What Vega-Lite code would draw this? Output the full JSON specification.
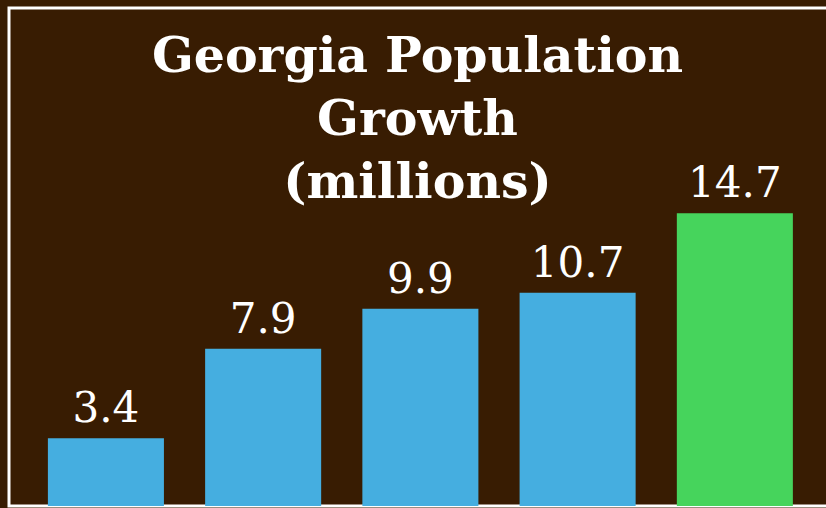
{
  "$schema": "https://vega.github.io/schema/vega-lite/v6.json",
  "autosize": "none",
  "width": 817,
  "height": 498,
  "padding": {"left": 9, "top": 8, "right": 0, "bottom": 2},
  "background": "#381c02",
  "config": {
    "view": {"stroke": "#ffffff", "strokeWidth": 3, "strokeDash": [817, 498, 1315], "fill": "#381c02"}
  },
  "title": {
    "text": ["Georgia Population", "Growth", "(millions)"],
    "font": "DejaVu Serif",
    "fontSize": 49,
    "fontWeight": "bold",
    "color": "#ffffff",
    "lineHeight": 63,
    "anchor": "middle",
    "frame": "group",
    "orient": "top",
    "offset": -200
  },
  "data": {
    "values": [
      {"period": "1950", "population": 3.4, "type": "actual"},
      {"period": "2000", "population": 7.9, "type": "actual"},
      {"period": "2015", "population": 9.9, "type": "actual"},
      {"period": "2022", "population": 10.7, "type": "actual"},
      {"period": "2050", "population": 14.7, "type": "projected"}
    ]
  },
  "encoding": {
    "x": {
      "field": "period",
      "type": "nominal",
      "sort": null,
      "axis": null,
      "scale": {"paddingInner": 0.262, "paddingOuter": 0.229, "align": 0.54}
    },
    "y": {
      "field": "population",
      "type": "quantitative",
      "axis": null,
      "scale": {"domain": [0, 25], "nice": false}
    }
  },
  "layer": [
    {
      "mark": {"type": "bar"},
      "encoding": {
        "color": {
          "field": "type",
          "type": "nominal",
          "legend": null,
          "scale": {"domain": ["actual", "projected"], "range": ["#45aee0", "#46d45c"]}
        }
      }
    },
    {
      "mark": {
        "type": "text",
        "baseline": "bottom",
        "dy": -7,
        "font": "DejaVu Serif",
        "fontSize": 42,
        "color": "#ffffff"
      },
      "encoding": {
        "text": {"field": "population", "type": "quantitative", "format": ".1f"}
      }
    }
  ]
}
